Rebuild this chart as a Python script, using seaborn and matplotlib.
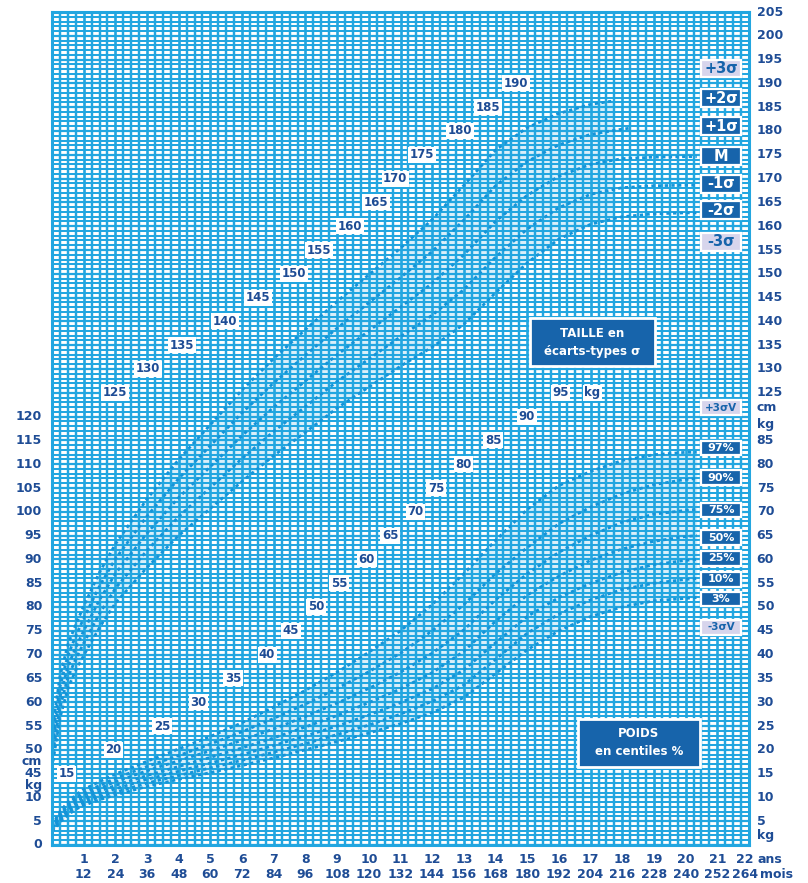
import matplotlib
matplotlib.use("Agg")
import numpy as np
import pandas as pd
import matplotlib.pyplot as plt
from matplotlib.patches import Rectangle
from matplotlib.ticker import MultipleLocator
import seaborn as sns

# ---------------------------------------------------------------- data
# ages in years
AGES = [0, 0.25, 0.5, 0.75, 1, 1.5, 2, 3, 4, 5, 6, 7, 8, 9, 10, 11, 12,
        13, 14, 15, 16, 17, 18, 19, 20, 20.35]
AGES_P2 = [0, 0.25, 0.5, 0.75, 1, 1.5, 2, 3, 4, 5, 6, 7, 8, 9, 10, 11, 12,
           13, 14, 15, 16, 17, 17.7]
AGES_P1 = [0, 0.25, 0.5, 0.75, 1, 1.5, 2, 3, 4, 5, 6, 7, 8, 9, 10, 11, 12,
           13, 14, 15, 16, 17, 18, 18.25]

# height (cm), standard-deviation curves
height_p2 = [53.8, 65.4, 72.1, 76.3, 80.2, 87.3, 93.2, 102.7, 111.0, 118.3,
             125.6, 132.2, 138.3, 144.2, 149.8, 155.4, 161.4, 168.6, 176.0,
             180.7, 183.7, 185.6, 186.3]
height_p1 = [51.9, 63.2, 69.8, 73.9, 77.6, 84.4, 90.1, 99.1, 107.0, 113.9,
             120.8, 127.1, 132.9, 138.6, 143.9, 149.2, 154.7, 161.3, 168.5,
             173.6, 177.1, 179.3, 180.4, 180.6]
height_m = [50.0, 61.0, 67.5, 71.5, 75.0, 81.5, 87.0, 95.5, 103.0, 109.5,
            116.0, 122.0, 127.5, 133.0, 138.0, 143.0, 148.0, 154.0, 161.0,
            166.5, 170.5, 173.0, 174.2, 174.5, 174.6, 174.6]
height_m1 = [48.1, 58.8, 65.2, 69.1, 72.4, 78.6, 83.9, 91.9, 99.0, 105.1,
             111.2, 116.9, 122.1, 127.4, 132.1, 136.8, 141.3, 146.7, 153.5,
             159.4, 163.9, 166.7, 168.1, 168.5, 168.6, 168.6]
height_m2 = [46.2, 56.6, 62.9, 66.7, 69.8, 75.7, 80.8, 88.3, 95.0, 100.7,
             106.4, 111.8, 116.7, 121.8, 126.2, 130.6, 134.6, 139.4, 146.0,
             152.3, 157.3, 160.4, 162.0, 162.6, 162.8, 162.8]

# weight (kg), centile curves
weight_97 = [4.2, 7.0, 9.0, 10.5, 11.7, 13.3, 14.9, 17.6, 20.2, 22.8, 25.7,
             29.0, 32.5, 36.3, 40.5, 45.0, 50.5, 57.0, 64.0, 70.5, 75.5, 78.5,
             80.8, 82.0, 82.5, 82.5]
weight_90 = [3.9, 6.6, 8.5, 9.9, 11.0, 12.5, 14.0, 16.5, 18.8, 21.2, 23.8,
             26.6, 29.6, 32.9, 36.4, 40.3, 45.0, 50.5, 57.0, 62.5, 67.5, 71.0,
             73.8, 75.7, 76.8, 77.0]
weight_75 = [3.7, 6.2, 8.1, 9.4, 10.5, 11.9, 13.3, 15.6, 17.7, 19.8, 22.0,
             24.4, 27.0, 29.8, 32.9, 36.3, 40.3, 45.2, 51.5, 57.0, 61.5, 65.0,
             67.8, 69.5, 70.3, 70.5]
weight_50 = [3.4, 5.8, 7.6, 8.9, 9.9, 11.3, 12.5, 14.6, 16.5, 18.4, 20.4,
             22.5, 24.8, 27.2, 29.9, 32.8, 36.2, 40.7, 47.0, 52.5, 56.5, 59.8,
             62.2, 63.8, 64.8, 65.0]
weight_25 = [3.2, 5.4, 7.1, 8.4, 9.3, 10.7, 11.8, 13.8, 15.5, 17.2, 19.0,
             20.9, 22.9, 25.0, 27.3, 29.9, 32.8, 36.8, 42.5, 48.0, 52.0, 55.0,
             57.3, 58.9, 59.8, 60.0]
weight_10 = [3.0, 5.1, 6.7, 8.0, 8.8, 10.1, 11.1, 13.0, 14.6, 16.2, 17.8,
             19.5, 21.3, 23.2, 25.2, 27.5, 30.2, 33.6, 39.0, 44.5, 48.5, 51.5,
             53.7, 55.0, 55.8, 56.0]
weight_3 = [2.8, 4.8, 6.3, 7.5, 8.3, 9.5, 10.5, 12.3, 13.8, 15.2, 16.7,
            18.3, 20.0, 21.7, 23.5, 25.5, 27.8, 31.0, 36.0, 41.0, 45.0, 48.0,
            50.0, 51.3, 51.8, 52.0]

# axis labels
years = list(range(1, 23))
months = [12 * y for y in years]
left_cm = [50, 55, 60, 65, 70, 75, 80, 85, 90, 95, 100, 105, 110, 115, 120]
left_kg = [0, 5, 10]
right_cm = [125, 130, 135, 140, 145, 150, 155, 160, 165, 170, 175, 180, 185,
            190, 195, 200, 205]
right_kg = [5, 10, 15, 20, 25, 30, 35, 40, 45, 50, 55, 60, 65, 70, 75, 80, 85]

# series labels (text, level in cm / kg, dark box?)
sigma_labels = [("+3σ", 193.1, False), ("+2σ", 186.9, True), ("+1σ", 181.0, True),
                ("M", 174.7, True), ("-1σ", 168.9, True), ("-2σ", 163.4, True),
                ("-3σ", 156.7, False)]
centile_labels = [("+3σV", 91.9, False), ("97%", 83.4, True), ("90%", 77.2, True),
                  ("75%", 70.4, True), ("50%", 64.6, True), ("25%", 60.2, True),
                  ("10%", 55.8, True), ("3%", 51.7, True), ("-3σV", 45.7, False)]

# diagonal scale marks inside the grid
height_marks = [125, 130, 135, 140, 145, 150, 155, 160, 165, 170, 175, 180, 185, 190]
height_mark_age = [1.99, 3.03, 4.10, 5.46, 6.50, 7.64, 8.43, 9.41, 10.23, 10.83,
                   11.68, 12.88, 13.76, 14.65]
weight_marks = [15, 20, 25, 30, 35, 40, 45, 50, 55, 60, 65, 70, 75, 80, 85, 90, 95]
weight_mark_age = [0.47, 1.93, 3.47, 4.61, 5.71, 6.79, 7.54, 8.33, 9.06, 9.94,
                   10.67, 11.46, 12.12, 13.0, 13.92, 14.99, 16.04]

# heights share the vertical scale with weights, shifted by 30 units
CM_SHIFT = 30

# ---------------------------------------------------------------- style
GRID = "#22A6E0"
CURVE = "#1594D8"
BAND = "#D9EFFA"
INK = "#1E4C95"
BOX = "#1764AB"
LAV = "#D7D5EC"

sns.set_theme(style="white")
plt.rcParams["font.family"] = ["DejaVu Sans"]

rows = []
def add(name, ages, vals, shift):
    for a, v in zip(ages, vals):
        rows.append({"curve": name, "age": a, "y": v - shift})

add("+2σ", AGES_P2, height_p2, CM_SHIFT)
add("+1σ", AGES_P1, height_p1, CM_SHIFT)
add("M", AGES, height_m, CM_SHIFT)
add("-1σ", AGES, height_m1, CM_SHIFT)
add("-2σ", AGES, height_m2, CM_SHIFT)
for name, vals in [("97", weight_97), ("90", weight_90), ("75", weight_75),
                   ("50", weight_50), ("25", weight_25), ("10", weight_10),
                   ("3", weight_3)]:
    add(name, AGES, vals, 0)
df = pd.DataFrame(rows)

fig = plt.figure(figsize=(8.08, 8.83), dpi=100)
ax = fig.add_axes([52 / 808, 1 - 845 / 883, 697 / 808, 833 / 883])
ax.set_xlim(0, 22)
ax.set_ylim(0, 175)
ax.set_facecolor("white")

# shaded bands
lo = np.interp(AGES_P2, AGES, height_m2)
ax.fill_between(AGES_P2, np.array(height_p2) - CM_SHIFT, lo - CM_SHIFT,
                color=BAND, lw=0, zorder=1)
ax.fill_between(AGES, weight_97, weight_3, color=BAND, lw=0, zorder=1)

# millimetre-style grid
ax.xaxis.set_major_locator(MultipleLocator(1))
ax.xaxis.set_minor_locator(MultipleLocator(0.25))
ax.yaxis.set_major_locator(MultipleLocator(5))
ax.yaxis.set_minor_locator(MultipleLocator(1))
ax.set_axisbelow("line")
ax.grid(which="major", axis="x", color=GRID, lw=1.9)
ax.grid(which="minor", axis="x", color=GRID, lw=1.75)
ax.grid(which="major", axis="y", color=GRID, lw=1.6)
ax.grid(which="minor", axis="y", color=GRID, lw=1.45)
ax.tick_params(which="both", length=0, labelleft=False, labelbottom=False)
for s in ax.spines.values():
    s.set_color(GRID)
    s.set_linewidth(2.2)

# curves
for name, sub in df.groupby("curve", sort=False):
    sns.lineplot(data=sub, x="age", y="y", ax=ax, color=CURVE, lw=2.0,
                 estimator=None, sort=False, legend=False)
    ax.lines[-1].set_linestyle((0, (1.2, 1.2)))
    ax.lines[-1].set_zorder(2.2)
ax.set_xlabel("")
ax.set_ylabel("")

fs = 9
tkw = dict(color=INK, fontsize=fs, fontweight="bold")
ytr = ax.get_yaxis_transform()
xtr = ax.get_xaxis_transform()

# left scale
for v in left_cm:
    ax.text(-0.014, v - CM_SHIFT, str(v), ha="right", va="center", transform=ytr, **tkw)
ax.text(-0.014, 15, "45", ha="right", va="center", transform=ytr, **tkw)
for v in left_kg:
    ax.text(-0.014, v, str(v), ha="right", va="center", transform=ytr, **tkw)
ax.text(-0.014, 17.6, "cm", ha="right", va="center", transform=ytr, **tkw)
ax.text(-0.014, 12.5, "kg", ha="right", va="center", transform=ytr, **tkw)

# right scale
for v in right_cm:
    ax.text(1.011, v - CM_SHIFT, str(v), ha="left", va="center", transform=ytr, **tkw)
for v in right_kg:
    ax.text(1.011, v, str(v), ha="left", va="center", transform=ytr, **tkw)
ax.text(1.011, 91.9, "cm", ha="left", va="center", transform=ytr, **tkw)
ax.text(1.011, 88.3, "kg", ha="left", va="center", transform=ytr, **tkw)
ax.text(1.011, 2.1, "kg", ha="left", va="center", transform=ytr, **tkw)

# age scale
for y, m in zip(years, months):
    xs = y - 0.12 if y == 22 else y
    ax.text(xs, -0.018, str(y), ha="center", va="center", transform=xtr, **tkw)
    ax.text(xs, -0.036, str(m), ha="center", va="center", transform=xtr, **tkw)
ax.text(1.012, -0.018, "ans", ha="left", va="center", transform=ax.transAxes, **tkw)
ax.text(1.016, -0.036, "mois", ha="left", va="center", transform=ax.transAxes, **tkw)

# diagonal marks
wb = dict(boxstyle="square,pad=0.12", fc="white", ec="none")
mk = dict(ha="center", va="center", bbox=wb, zorder=4, color=INK,
          fontsize=8.5, fontweight="bold")
for v, a in zip(height_marks, height_mark_age):
    ax.text(a, v - CM_SHIFT, str(v), **mk)
for v, a in zip(weight_marks, weight_mark_age):
    ax.text(a, v, str(v), **mk)
ax.text(17.05, 95, "kg", **mk)

# series tags on the right
XC = 21.12
W = 1.26
def tag(text, yc, dark, h, size):
    ax.add_patch(Rectangle((XC - W / 2, yc - h / 2), W, h, fc=BOX if dark else LAV,
                           ec="white", lw=1.6, zorder=5, clip_on=False))
    ax.text(XC, yc, text, ha="center", va="center", zorder=6,
            color="white" if dark else BOX, fontsize=size, fontweight="bold")

for t, v, d in sigma_labels:
    tag(t, v - CM_SHIFT, d, 3.7, 10.5)
for t, v, d in centile_labels:
    tag(t, v, d, 3.0, 8 if "V" not in t else 7.5)

# titled boxes
def panel(x0, x1, y0, y1, lines):
    ax.add_patch(Rectangle((x0, y0), x1 - x0, y1 - y0, fc=BOX, ec="white",
                           lw=2, zorder=5))
    ax.text((x0 + x1) / 2, (y0 + y1) / 2, lines, ha="center", va="center",
            color="white", fontsize=8.5, fontweight="bold", zorder=6,
            linespacing=1.5)

panel(15.09, 19.03, 100.6, 110.7, "TAILLE en\nécarts-types σ")
panel(16.6, 20.45, 16.4, 26.5, "POIDS\nen centiles %")

fig.savefig("out.png", dpi=100)
